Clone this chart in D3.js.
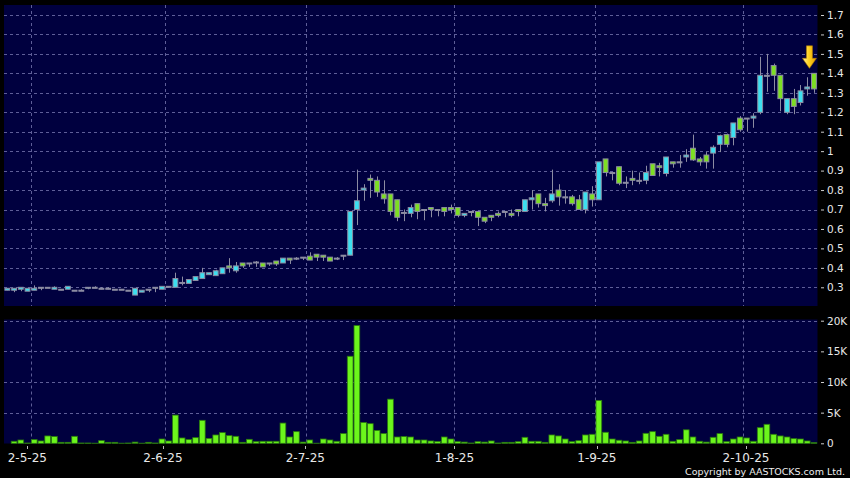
<!DOCTYPE html>
<html>
<head>
<meta charset="utf-8">
<script src="https://cdn.jsdelivr.net/npm/d3@7/dist/d3.min.js"></script>
<style>
  html, body { margin: 0; padding: 0; background: #000; }
  svg { display: block; }
  text { font-family: "DejaVu Sans", Verdana, sans-serif; }
</style>
</head>
<body>
<svg id="chart" width="850" height="478"></svg>
<script>
// ---- Data (daily candles, index 0 .. 120) ----
const open = [
  0.285,0.285,0.29,0.28,0.285,0.30,0.30,0.29,0.29,0.29,
  0.285,0.285,0.295,0.30,0.295,0.295,0.29,0.29,0.285,0.26,
  0.275,0.29,0.30,0.29,0.305,0.30,0.325,0.32,0.335,0.345,
  0.365,0.36,0.37,0.41,0.385,0.425,0.425,0.43,0.425,0.425,
  0.435,0.425,0.45,0.45,0.455,0.46,0.47,0.465,0.455,0.45,
  0.465,0.465,0.70,0.80,0.86,0.85,0.78,0.78,0.75,0.685,
  0.68,0.73,0.70,0.71,0.70,0.71,0.71,0.71,0.67,0.69,
  0.69,0.66,0.67,0.68,0.69,0.68,0.70,0.69,0.75,0.78,
  0.73,0.745,0.80,0.765,0.765,0.75,0.70,0.78,0.75,0.96,
  0.89,0.92,0.84,0.86,0.85,0.85,0.935,0.925,0.885,0.945,
  0.945,0.97,1.015,0.96,0.98,0.99,1.035,1.085,1.07,1.17,
  1.17,1.17,1.20,1.39,1.44,1.39,1.20,1.27,1.25,1.32,
  1.40
];
const high = [
  0.295,0.295,0.30,0.295,0.31,0.30,0.30,0.305,0.29,0.305,
  0.285,0.29,0.30,0.305,0.30,0.30,0.29,0.29,0.285,0.295,
  0.285,0.29,0.30,0.305,0.305,0.375,0.355,0.34,0.355,0.40,
  0.375,0.39,0.40,0.45,0.43,0.425,0.425,0.435,0.425,0.425,
  0.435,0.45,0.45,0.455,0.455,0.48,0.47,0.465,0.455,0.455,
  0.465,0.69,0.905,0.83,0.88,0.87,0.85,0.78,0.75,0.70,
  0.725,0.73,0.70,0.71,0.70,0.71,0.725,0.71,0.68,0.69,
  0.69,0.66,0.67,0.69,0.69,0.70,0.70,0.75,0.80,0.78,
  0.76,0.905,0.83,0.80,0.775,0.775,0.79,0.82,0.945,0.96,
  0.89,0.92,0.87,0.90,0.89,0.925,0.935,0.94,0.97,0.945,
  0.98,1.01,1.085,0.97,0.995,1.03,1.085,1.09,1.145,1.18,
  1.17,1.195,1.485,1.50,1.45,1.39,1.27,1.32,1.34,1.38,
  1.40
];
const low = [
  0.285,0.275,0.28,0.28,0.285,0.285,0.30,0.29,0.285,0.29,
  0.285,0.285,0.29,0.295,0.29,0.29,0.29,0.29,0.285,0.26,
  0.275,0.275,0.275,0.29,0.305,0.30,0.31,0.32,0.335,0.345,
  0.365,0.36,0.37,0.375,0.375,0.40,0.405,0.405,0.405,0.41,
  0.41,0.425,0.42,0.44,0.44,0.44,0.435,0.435,0.435,0.44,
  0.44,0.465,0.62,0.745,0.76,0.765,0.73,0.67,0.64,0.64,
  0.66,0.65,0.645,0.66,0.665,0.665,0.68,0.66,0.66,0.665,
  0.615,0.63,0.64,0.66,0.66,0.66,0.665,0.69,0.70,0.71,
  0.69,0.735,0.72,0.73,0.72,0.70,0.68,0.715,0.75,0.87,
  0.85,0.825,0.81,0.825,0.83,0.83,0.875,0.87,0.87,0.915,
  0.915,0.945,0.95,0.925,0.91,0.91,0.995,1.02,1.03,1.10,
  1.10,1.12,1.19,1.305,1.31,1.205,1.19,1.19,1.235,1.285,
  1.30
];
const close = [
  0.295,0.295,0.30,0.295,0.295,0.30,0.30,0.30,0.29,0.305,
  0.285,0.285,0.30,0.30,0.295,0.295,0.29,0.29,0.285,0.295,
  0.285,0.29,0.30,0.305,0.305,0.345,0.325,0.34,0.355,0.375,
  0.375,0.385,0.40,0.40,0.41,0.41,0.425,0.43,0.405,0.425,
  0.42,0.45,0.44,0.45,0.455,0.44,0.455,0.455,0.435,0.45,
  0.465,0.69,0.745,0.81,0.85,0.79,0.755,0.69,0.66,0.685,
  0.71,0.69,0.70,0.70,0.70,0.69,0.70,0.67,0.68,0.69,
  0.66,0.64,0.66,0.67,0.69,0.67,0.69,0.75,0.76,0.73,
  0.72,0.78,0.765,0.765,0.73,0.70,0.79,0.75,0.945,0.89,
  0.89,0.835,0.84,0.85,0.85,0.89,0.875,0.915,0.97,0.935,
  0.945,0.98,0.955,0.945,0.945,1.02,1.08,1.035,1.145,1.11,
  1.17,1.18,1.39,1.39,1.39,1.27,1.27,1.23,1.31,1.33,
  1.32
];
const volume = [
  0,330,540,50,600,380,1200,1100,160,160,
  1140,50,50,20,430,160,160,20,50,200,
  20,160,50,700,380,4600,870,600,920,3750,
  800,1360,1740,1250,1140,160,650,270,330,330,
  330,3300,1030,1900,200,540,20,700,540,330,
  1580,14200,19200,3400,3200,2100,1580,7200,1030,1100,
  1030,540,540,380,300,1030,700,270,200,50,
  270,200,380,50,160,160,270,980,330,330,
  160,1360,1200,700,270,430,1360,1470,7000,1800,
  700,500,380,160,380,1630,1900,1140,1470,330,
  600,2200,1030,330,200,980,1580,270,700,1030,
  870,330,2550,3100,1470,1200,1030,760,700,380,
  100
];
const priceTicks = [0.3,0.4,0.5,0.6,0.7,0.8,0.9,1.0,1.1,1.2,1.3,1.4,1.5,1.6,1.7];
const volumeTicks = [0,5000,10000,15000,20000];
const monthStartIndex = [4,24,45,67,88,110];
const monthLabels = ["2-5-25","2-6-25","2-7-25","1-8-25","1-9-25","2-10-25"];

// ---- Layout ----
const W = 850, H = 478;
const plotL = 4, plotR = 817.5;
const priceTop = 5, priceBot = 306;
const volTop = 319.5, volBot = 443.5;
const n = close.length;
const idx = d3.range(n);

const svg = d3.select("#chart");
svg.append("rect").attr("width", W).attr("height", H).attr("fill", "#000");

const x = d3.scaleBand().domain(idx).range([plotL, 817.3]).padding(0);
const xTick = d3.scaleBand().domain(idx).range([0.2, 820.6]).padding(0);
const bw = x.bandwidth();
const cx = i => x(i) + bw / 2;

const yP = d3.scaleLinear().domain([0.3, 1.7]).range([287.3, 15]);
const yV = d3.scaleLinear().domain([0, 20000]).range([443.3, 320.7]);

const BG = "#00003f";
const GRID = "#5e5e98";

// panels
svg.append("rect").attr("x", plotL).attr("y", priceTop).attr("width", plotR - plotL).attr("height", priceBot - priceTop).attr("fill", BG);
svg.append("rect").attr("x", plotL).attr("y", volTop).attr("width", plotR - plotL).attr("height", volBot - volTop).attr("fill", BG);

// horizontal grid
const gGrid = svg.append("g").attr("stroke", GRID).attr("stroke-width", 1).attr("stroke-dasharray", "3,3").attr("fill", "none");
gGrid.selectAll("line.hp").data(priceTicks).join("line")
  .attr("x1", plotL).attr("x2", plotR)
  .attr("y1", d => Math.round(yP(d)) + 0.5).attr("y2", d => Math.round(yP(d)) + 0.5);
gGrid.selectAll("line.hv").data(volumeTicks.filter(d => d > 0)).join("line")
  .attr("class", "hv")
  .attr("x1", plotL).attr("x2", plotR)
  .attr("y1", d => Math.round(yV(d)) + 0.5).attr("y2", d => Math.round(yV(d)) + 0.5);
// vertical grid at month starts
monthStartIndex.forEach(k => {
  const gx = Math.round(x(k)) + 0.5;
  gGrid.append("line").attr("x1", gx).attr("x2", gx).attr("y1", priceTop).attr("y2", priceBot);
  gGrid.append("line").attr("x1", gx).attr("x2", gx).attr("y1", volTop).attr("y2", volBot);
});

// ---- Candles ----
const UP = "#3ddff0", DOWN = "#7ddf22", EDGE = "#8c8ca2";
const bodyW = bw * 0.72;
const gC = svg.append("g");
gC.selectAll("line.wick").data(idx).join("line")
  .attr("x1", i => Math.round(cx(i)) + 0.5).attr("x2", i => Math.round(cx(i)) + 0.5)
  .attr("y1", i => yP(high[i])).attr("y2", i => yP(low[i]))
  .attr("stroke", EDGE).attr("stroke-width", 1);
gC.selectAll("rect.body").data(idx).join("rect")
  .attr("x", i => cx(i) - bodyW / 2)
  .attr("width", bodyW)
  .attr("y", i => yP(Math.max(open[i], close[i])))
  .attr("height", i => Math.max(1, Math.abs(yP(open[i]) - yP(close[i]))))
  .attr("fill", i => close[i] > open[i] ? UP : (close[i] < open[i] ? DOWN : EDGE))
  .attr("stroke", EDGE).attr("stroke-width", 1);

// ---- Volume ----
svg.append("g").selectAll("rect").data(idx).join("rect")
  .attr("x", i => x(i) + 0.5)
  .attr("width", bw - 1)
  .attr("y", i => yV(volume[i]))
  .attr("height", i => yV(0) - yV(volume[i]))
  .attr("fill", "#6cf51c").attr("stroke", "#2a7a0e").attr("stroke-width", 0.8);

// ---- Axes ----
const axisColor = "#e8e8e8";
const fmtP = d => String(+d.toFixed(1));
const gPA = svg.append("g").attr("transform", "translate(821,0)")
  .call(d3.axisRight(yP).tickValues(priceTicks).tickFormat(fmtP).tickSize(3).tickPadding(3));
const gVA = svg.append("g").attr("transform", "translate(821,0)")
  .call(d3.axisRight(yV).tickValues(volumeTicks).tickFormat(d => d === 0 ? "0" : (d / 1000) + "K").tickSize(3).tickPadding(3));
const gXA = svg.append("g").attr("transform", "translate(0,446)");
gXA.selectAll("line").data(monthStartIndex).join("line")
  .attr("x1", k => Math.round(xTick(k)) + 0.5).attr("x2", k => Math.round(xTick(k)) + 0.5)
  .attr("y1", 0).attr("y2", 3).attr("stroke", "#bbbbbb");
gXA.selectAll("text").data(monthStartIndex).join("text")
  .attr("x", k => xTick(k)).attr("y", 16)
  .attr("text-anchor", "middle")
  .attr("fill", axisColor).attr("font-size", 12)
  .text((k, j) => monthLabels[j]);

[gPA, gVA].forEach(g => {
  g.select(".domain").remove();
  g.selectAll(".tick line").attr("stroke", "#cccccc");
  g.selectAll(".tick text").attr("fill", axisColor).attr("font-size", 10.5)
    .attr("font-family", "DejaVu Sans, Verdana, sans-serif");
});

// ---- Last-price arrow ----
const last = n - 1;
const ax = cx(last) - 4.5, tipY = yP(high[last]) - 5;
const defs = svg.append("defs");
const grad = defs.append("linearGradient").attr("id", "gold").attr("x1", "0").attr("x2", "1").attr("y1", "0").attr("y2", "0");
grad.append("stop").attr("offset", "0").attr("stop-color", "#fff0a0");
grad.append("stop").attr("offset", "0.45").attr("stop-color", "#ffd21f");
grad.append("stop").attr("offset", "1").attr("stop-color", "#e09a00");
const ap = d3.path();
ap.moveTo(ax - 3, tipY - 22.5);
ap.lineTo(ax + 3, tipY - 22.5);
ap.lineTo(ax + 3, tipY - 10);
ap.lineTo(ax + 7, tipY - 10);
ap.lineTo(ax, tipY);
ap.lineTo(ax - 7, tipY - 10);
ap.lineTo(ax - 3, tipY - 10);
ap.closePath();
svg.append("path").attr("d", ap.toString()).attr("fill", "url(#gold)").attr("stroke", "#b07a00").attr("stroke-width", 0.6);

// ---- Copyright ----
svg.append("text").attr("x", 845).attr("y", 475).attr("text-anchor", "end")
  .attr("fill", "#eeeeee").attr("font-size", 9.5)
  .text("Copyright by AASTOCKS.com Ltd.");
</script>
</body>
</html>
